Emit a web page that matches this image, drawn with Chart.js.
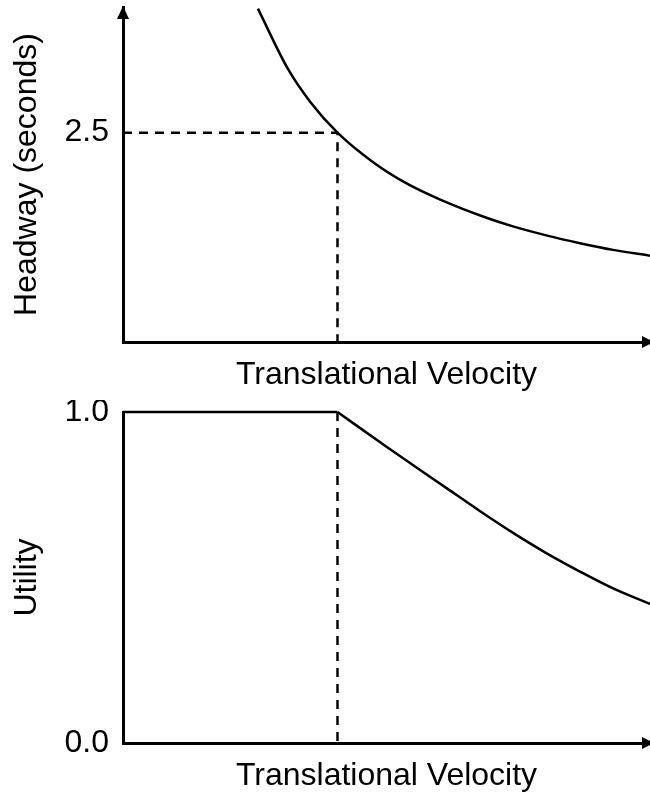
<!DOCTYPE html>
<html>
<head>
<meta charset="utf-8">
<script src="https://cdn.jsdelivr.net/npm/chart.js@4/dist/chart.umd.min.js"></script>
<style>
  body { margin: 0; background: #fff; }
  canvas { display: block; }
</style>
</head>
<body>
<canvas id="topChart" width="650" height="400"></canvas>
<canvas id="bottomChart" width="650" height="395"></canvas>
<script>
// Dados
const velTop = [2.56, 3.13, 3.55, 4.07, 4.74, 5.39, 6.02, 6.91, 7.40, 8.05, 8.67, 9.30, 10];
const headway = [3.98, 3.26, 2.87, 2.50, 2.15, 1.89, 1.70, 1.48, 1.38, 1.27, 1.18, 1.10, 1.03];

const velFlat = [0, 4.07];
const utilityFlat = [1, 1];
const velBottom = [4.07, 5.00, 6.14, 6.77, 7.41, 8.04, 8.67, 9.30, 10];
const utility = [1, 0.895, 0.770, 0.701, 0.634, 0.573, 0.518, 0.467, 0.420];

const markVel = 4.07;
const markHeadway = 2.5;

const topTicks = [2.5];
const bottomTicks = [0, 1];

const xTitle = "Translational Velocity";
const yTitleTop = "Headway (seconds)";
const yTitleBottom = "Utility";

const FONT = { family: "'Liberation Sans', Arial, sans-serif", size: 32, lineHeight: 1.2 };
Chart.defaults.color = "#000";

function toPoints(xs, ys) {
  return xs.map((x, i) => ({ x: x, y: ys[i] }));
}

// Plugin para desenhar as setas nos eixos
const arrowPlugin = {
  id: "arrows",
  afterDraw(chart, args, opts) {
    const ctx = chart.ctx;
    const a = chart.chartArea;
    ctx.save();
    ctx.fillStyle = "#000";
    if (opts.yArrow) {
      ctx.beginPath();
      ctx.moveTo(a.left, a.top - 1);
      ctx.lineTo(a.left - 6, a.top + 12);
      ctx.lineTo(a.left + 6, a.top + 12);
      ctx.closePath();
      ctx.fill();
    }
    ctx.beginPath();
    ctx.moveTo(a.right + 4, a.bottom);
    ctx.lineTo(a.right - 8, a.bottom - 6);
    ctx.lineTo(a.right - 8, a.bottom + 6);
    ctx.closePath();
    ctx.fill();
    ctx.restore();
  }
};

function makeChart(id, datasets, yMin, yMax, ticks, yTitle, cfg) {
  const ctx = document.getElementById(id).getContext("2d");
  return new Chart(ctx, {
    type: "line",
    data: { datasets: datasets },
    options: {
      responsive: false,
      animation: false,
      devicePixelRatio: 1,
      layout: { padding: { top: cfg.padTop, left: 0, right: 0, bottom: 0 } },
      plugins: {
        legend: { display: false },
        tooltip: { enabled: false },
        arrows: { yArrow: cfg.yArrow }
      },
      elements: { point: { radius: 0 } },
      scales: {
        x: {
          type: "linear",
          min: 0,
          max: 10,
          grid: { display: false, drawTicks: false },
          border: { display: true, width: 3, color: "#000" },
          ticks: { display: false },
          title: { display: true, text: xTitle, font: FONT, padding: { top: 0, bottom: cfg.titlePad } },
          afterFit(scale) {
            scale.height = cfg.xHeight;
            scale.paddingLeft = 0;
            scale.paddingRight = 0;
          }
        },
        y: {
          type: "linear",
          min: yMin,
          max: yMax,
          grid: { display: false, drawTicks: false },
          border: { display: true, width: 3, color: "#000" },
          ticks: {
            font: FONT,
            padding: 14,
            callback: v => cfg.fmt(v)
          },
          afterBuildTicks(scale) {
            scale.ticks = ticks.map(v => ({ value: v }));
          },
          title: { display: true, text: yTitle, font: FONT, padding: { top: 8, bottom: 0 } },
          afterFit(scale) {
            scale.width = 123;
            scale.paddingTop = 0;
            scale.paddingBottom = 0;
          }
        }
      }
    },
    plugins: [arrowPlugin]
  });
}

// Gráfico de cima: headway
makeChart("topChart", [
  {
    data: toPoints(velTop, headway),
    borderColor: "#000",
    borderWidth: 2.5,
    cubicInterpolationMode: "monotone",
    clip: 6
  },
  {
    data: [{ x: 0, y: markHeadway }, { x: markVel, y: markHeadway }, { x: markVel, y: 0 }],
    borderColor: "#000",
    borderWidth: 2.5,
    borderDash: [9, 7],
    tension: 0
  }
], 0, 4, topTicks, yTitleTop, {
  padTop: 7, xHeight: 58, titlePad: 6, yArrow: true, fmt: v => v.toFixed(1)
});

// Gráfico de baixo: utilidade
makeChart("bottomChart", [
  {
    data: toPoints(velFlat, utilityFlat),
    borderColor: "#000",
    borderWidth: 2.5,
    tension: 0,
    clip: 6
  },
  {
    data: toPoints(velBottom, utility),
    borderColor: "#000",
    borderWidth: 2.5,
    cubicInterpolationMode: "monotone",
    clip: 6
  },
  {
    data: [{ x: markVel, y: 1 }, { x: markVel, y: 0 }],
    borderColor: "#000",
    borderWidth: 2.5,
    borderDash: [9, 7],
    tension: 0
  }
], 0, 1, bottomTicks, yTitleBottom, {
  padTop: 12, xHeight: 52, titlePad: 0, yArrow: false, fmt: v => v.toFixed(1)
});
</script>
</body>
</html>
